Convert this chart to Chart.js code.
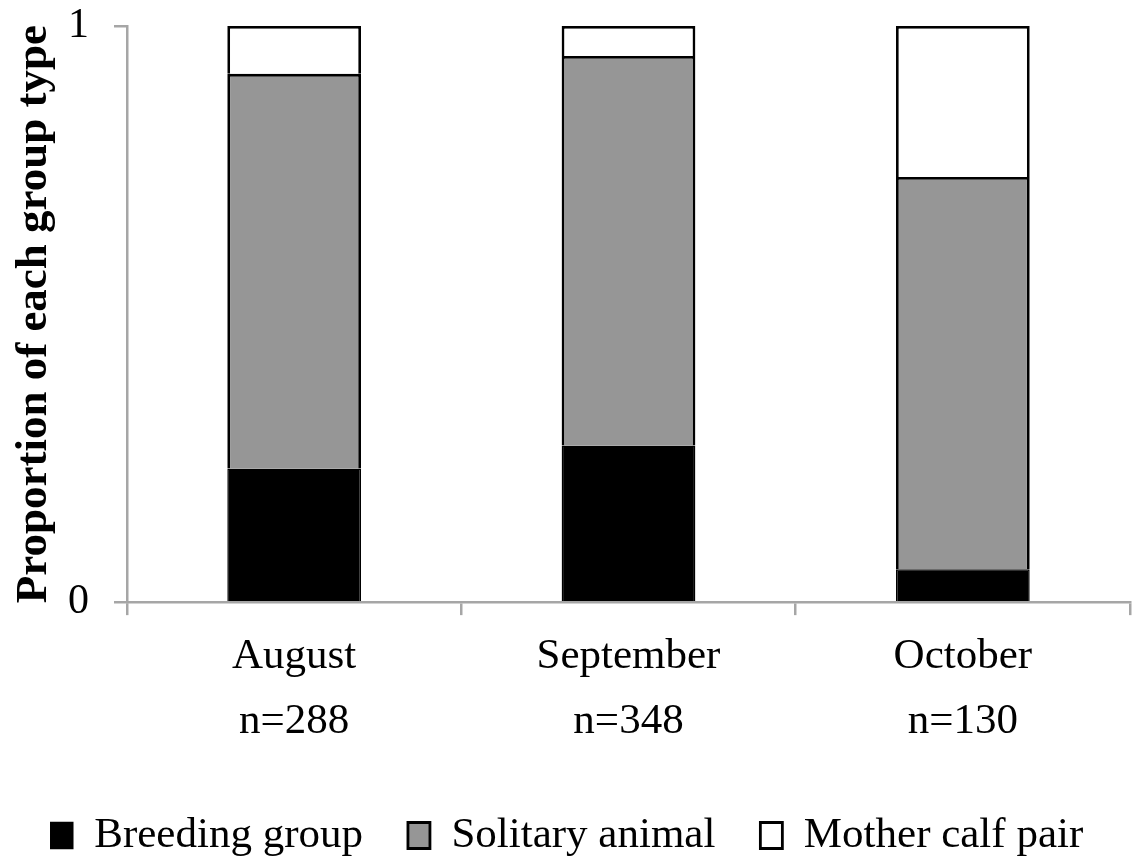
<!DOCTYPE html>
<html>
<head>
<meta charset="utf-8">
<script src="https://cdn.jsdelivr.net/npm/chart.js@4/dist/chart.umd.min.js"></script>
<style>
  html, body { margin: 0; padding: 0; background: #fff; }
  canvas { display: block; }
</style>
</head>
<body>
<canvas id="groupChart" width="1134" height="857"></canvas>
<script>
const months = ["August", "September", "October"];
const sampleSizes = ["n=288", "n=348", "n=130"];
const breeding = [0.232, 0.272, 0.057];
const solitary = [0.685, 0.676, 0.681];
const motherCalf = [0.083, 0.052, 0.262];
const yTicks = [0, 1];

const axisGrey = "#a6a6a6";
const serif = "'Liberation Serif', 'Times New Roman', serif";

const labels = months.map((m, i) => [m, sampleSizes[i]]);

new Chart(document.getElementById("groupChart"), {
  type: "bar",
  data: {
    labels: labels,
    datasets: [
      {
        label: "Breeding group",
        data: breeding,
        backgroundColor: "#000000",
        borderColor: "#000000",
        borderWidth: 1.5,
      },
      {
        label: "Solitary animal",
        data: solitary,
        backgroundColor: "#969696",
        borderColor: "#000000",
        borderWidth: 2.8,
      },
      {
        label: "Mother calf pair",
        data: motherCalf,
        backgroundColor: "#ffffff",
        borderColor: "#000000",
        borderWidth: 2.8,
      },
    ],
  },
  options: {
    responsive: false,
    animation: false,
    devicePixelRatio: 1,
    layout: { padding: { top: 26, right: 4, left: 4, bottom: -10 } },
    datasets: {
      bar: { categoryPercentage: 1, barPercentage: 0.4 },
    },
    scales: {
      x: {
        stacked: true,
        afterFit: (scale) => {
          scale.height += 6;
        },
        grid: {
          offset: true,
          drawOnChartArea: false,
          tickLength: 13,
          color: axisGrey,
          lineWidth: 2.5,
        },
        border: { color: axisGrey, width: 2.5 },
        ticks: {
          color: "#000",
          padding: 9,
          font: { family: serif, size: 43, lineHeight: 1.51 },
        },
      },
      y: {
        stacked: true,
        min: 0,
        max: 1,
        afterBuildTicks: (axis) => {
          axis.ticks = yTicks.map((v) => ({ value: v }));
        },
        grid: {
          drawOnChartArea: false,
          tickLength: 13,
          color: axisGrey,
          lineWidth: 2.5,
        },
        border: { color: axisGrey, width: 2.5 },
        ticks: {
          color: "#000",
          padding: 25,
          font: { family: serif, size: 42, lineHeight: 0.05 },
        },
        title: {
          display: true,
          text: "Proportion of each group type",
          color: "#000",
          padding: { top: 3, bottom: -18 },
          font: { family: serif, size: 45, weight: "bold" },
        },
      },
    },
    plugins: {
      tooltip: { enabled: false },
      legend: {
        position: "bottom",
        labels: {
          color: "#000",
          boxWidth: 22,
          boxHeight: 26,
          padding: 45,
          font: { family: serif, size: 43 },
        },
      },
    },
  },
});
</script>
</body>
</html>
